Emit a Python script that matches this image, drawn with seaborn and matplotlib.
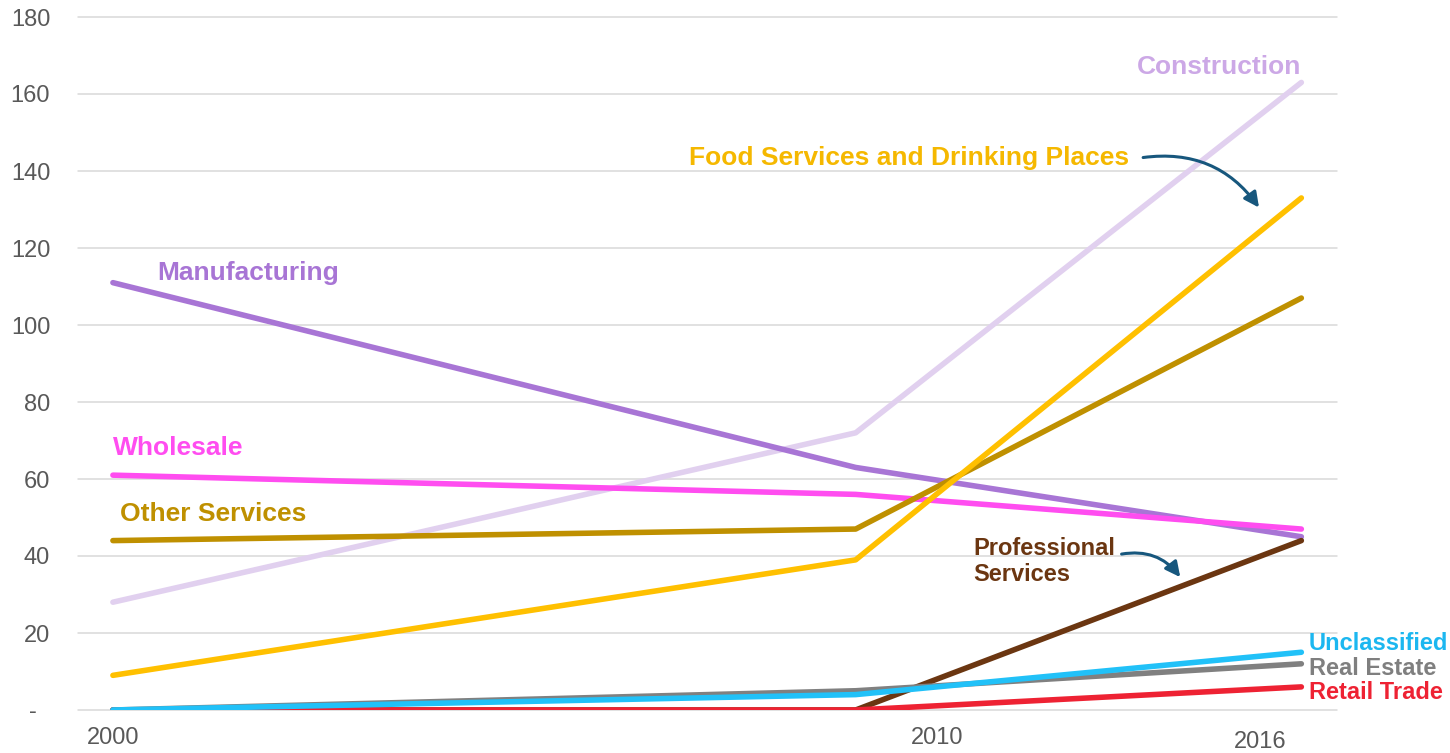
import matplotlib

matplotlib.use('Agg')
import matplotlib.pyplot as plt
import pandas as pd
import seaborn as sns

years = [2000, 2010, 2016]
construction = [28, 72, 163]
food_services = [9, 39, 133]
other_services = [44, 47, 107]
manufacturing = [111, 63, 45]
wholesale = [61, 56, 47]
professional = [0, 0, 44]
real_estate = [0, 5, 12]
unclassified = [0, 4, 15]
retail_trade = [0, 0, 6]

series = {
    'Construction': construction,
    'Manufacturing': manufacturing,
    'Wholesale': wholesale,
    'Other Services': other_services,
    'Food Services and Drinking Places': food_services,
    'Professional Services': professional,
    'Retail Trade': retail_trade,
    'Real Estate': real_estate,
    'Unclassified': unclassified,
}
colors = {
    'Construction': '#E1D0EF',
    'Manufacturing': '#A875D5',
    'Wholesale': '#FF4DF0',
    'Other Services': '#BF9000',
    'Food Services and Drinking Places': '#FFC000',
    'Professional Services': '#6B3611',
    'Retail Trade': '#EE2233',
    'Real Estate': '#808080',
    'Unclassified': '#21C1F8',
}
year_labels = ['2000', '2010', '2016']
year_label_pos = [2000, 2011.1, 2015.45]

rows = []
for name, vals in series.items():
    for y, v in zip(years, vals):
        rows.append({'year': y, 'value': v, 'sector': name})
df = pd.DataFrame(rows)

sns.set_style('white')
plt.rcParams['font.family'] = ['Liberation Sans', 'DejaVu Sans']

fig = plt.figure(figsize=(14.5, 7.53), dpi=100)
ax = fig.add_axes([78 / 1450, 1 - 710 / 753, (1337 - 78) / 1450, (710 - 17) / 753])

ax.grid(axis='y', color='#D9D9D9', linewidth=1.1, zorder=0)
ax.set_axisbelow(True)
sns.lineplot(data=df, x='year', y='value', hue='sector', hue_order=list(series.keys()),
             palette=colors, linewidth=4.0, legend=False, ax=ax, zorder=3)
for line in ax.lines:
    line.set_solid_capstyle('round')

ax.set_xlim(1999.53, 2016.48)
ax.set_ylim(0, 180)
ax.set_yticks(range(0, 181, 20))
ax.set_yticklabels(['-  '] + [str(v) for v in range(20, 181, 20)])
ax.tick_params(axis='y', length=0, pad=20, labelsize=17, labelcolor='#595959')
ax.set_xticks([])
for lab, xp, yo in zip(year_labels, year_label_pos, [-0.040, -0.040, -0.046]):
    ax.text(xp, yo, lab, transform=ax.get_xaxis_transform(), ha='center', va='center',
            fontsize=17, color='#595959')
ax.set_xlabel('')
ax.set_ylabel('')
sns.despine(ax=ax, left=True, bottom=True)
for g in ax.get_ygridlines():
    g.set_clip_on(False)

lbl = dict(fontsize=19, fontweight='bold')
side = dict(fontsize=17, fontweight='bold')
ax.text(2016.0, 167, 'Construction', color='#CCA8E6', ha='right', va='center', **lbl)
ax.text(2007.75, 143.5, 'Food Services and Drinking Places', color='#F5B800', ha='left', va='center', **lbl)
ax.text(2000.6, 113.5, 'Manufacturing', color='#A875D5', ha='left', va='center', **lbl)
ax.text(2000.0, 68, 'Wholesale', color='#FF4DF0', ha='left', va='center', **lbl)
ax.text(2000.1, 51, 'Other Services', color='#BF9000', ha='left', va='center', **lbl)
ax.text(2011.58, 38.6, 'Professional\nServices', color='#6B3611', ha='left', va='center',
        fontsize=17, fontweight='bold', linespacing=1.2)
ax.text(2016.1, 17.3, 'Unclassified', color='#1CB7F0', ha='left', va='center', **side)
ax.text(2016.1, 10.8, 'Real Estate', color='#7F7F7F', ha='left', va='center', **side)
ax.text(2016.1, 4.6, 'Retail Trade', color='#EE2233', ha='left', va='center', **side)

arrow = dict(arrowstyle='-|>,head_length=0.9,head_width=0.45', color='#17577D', lw=2.2,
             connectionstyle='arc3,rad=-0.3', shrinkA=0, shrinkB=0)
ax.annotate('', xy=(2015.43, 130.5), xytext=(2013.87, 143.5), arrowprops=arrow)
ax.annotate('', xy=(2014.37, 34.5), xytext=(2013.58, 40.5), arrowprops=arrow)

fig.savefig('out.png', dpi=100)
